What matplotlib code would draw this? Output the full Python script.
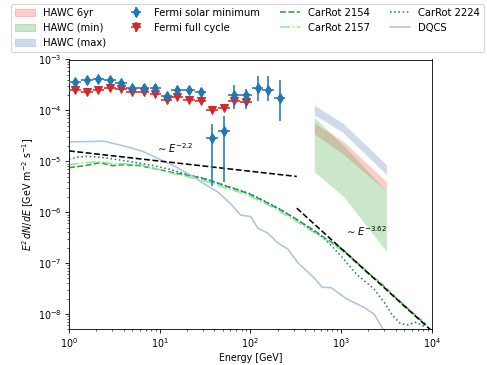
import numpy as np
import matplotlib.pyplot as plt
from matplotlib.patches import Patch

# Fermi-LAT points (GeV, GeV m^-2 s^-1)
fermi_E = np.array([1.16, 1.57, 2.11, 2.85, 3.77, 4.94, 6.65, 8.96, 11.9, 15.6,
                    20.9, 28.2, 38, 51, 66, 89, 120, 157, 210])
fermi_min = np.array([3.6e-4, 3.9e-4, 4.07e-4, 3.9e-4, 3.4e-4, 2.7e-4, 2.8e-4, 2.8e-4,
                      1.93e-4, 2.5e-4, 2.5e-4, 2.3e-4, 2.9e-5, 3.9e-5, 2.0e-4, 2.0e-4,
                      2.7e-4, 2.5e-4, 1.74e-4])
fermi_min_lo = np.array([3.1e-4, 3.4e-4, 3.5e-4, 3.35e-4, 2.9e-4, 2.3e-4, 2.4e-4, 2.35e-4,
                         1.6e-4, 2.1e-4, 2.1e-4, 1.9e-4, 3.2e-6, 4.0e-6, 1.07e-4, 1.07e-4,
                         1.54e-4, 1.54e-4, 6.3e-5])
fermi_min_hi = np.array([4.2e-4, 4.5e-4, 4.7e-4, 4.5e-4, 4.0e-4, 3.2e-4, 3.3e-4, 3.3e-4,
                         2.3e-4, 3.0e-4, 3.0e-4, 2.8e-4, 5.4e-5, 7.8e-5, 3.2e-4, 2.6e-4,
                         4.7e-4, 4.7e-4, 4.0e-4])
fermi_full = np.array([2.5e-4, 2.33e-4, 2.5e-4, 2.7e-4, 2.6e-4, 2.33e-4, 2.3e-4, 2.14e-4,
                       1.58e-4, 1.84e-4, 1.58e-4, 1.51e-4, 1.01e-4, 1.11e-4, 1.54e-4, 1.48e-4])
bin_halfwidth_dex = 0.064

# HAWC bands
hawc_E = np.array([507, 1050, 3160])
hawc6_lo = np.array([3.45e-5, 1.4e-5, 2.6e-6])
hawc6_hi = np.array([5.6e-5, 2.5e-5, 4.0e-6])
hawcmin_lo = np.array([6.2e-6, 2.1e-6, 1.7e-7])
hawcmin_hi = np.array([7.3e-5, 2.1e-5, 2.6e-6])
hawcmax_lo = np.array([8.2e-5, 3.7e-5, 5.5e-6])
hawcmax_hi = np.array([1.27e-4, 5.6e-5, 8.6e-6])

# simulations
car_E = np.array([1.0, 1.5, 2.2, 3.0, 4.0, 6.0, 10, 14, 20, 30, 42, 55, 75, 100, 150,
                  217, 320, 500, 700, 1000, 1400, 2000, 2800, 4000, 5800, 8700])
car2154 = np.array([7.5e-6, 8.2e-6, 9.4e-6, 8.2e-6, 8.6e-6, 8.2e-6, 6.85e-6, 6.0e-6, 5.36e-6,
                    4.58e-6, 3.8e-6, 3.2e-6, 2.7e-6, 2.23e-6, 1.55e-6, 1.1e-6, 7.3e-7,
                    4.44e-7, 2.9e-7, 1.98e-7, 1.15e-7, 6.4e-8, 3.9e-8, 2.1e-8, 1.15e-8, 6.2e-9])
car2157 = np.array([8.6e-6, 9.4e-6, 9.8e-6, 9.0e-6, 9.0e-6, 8.6e-6, 6.85e-6, 5.7e-6, 5.0e-6,
                    4.2e-6, 3.5e-6, 2.92e-6, 2.5e-6, 2.04e-6, 1.45e-6, 1.0e-6, 6.65e-7,
                    4.05e-7, 2.8e-7, 1.81e-7, 1.1e-7, 6.2e-8, 3.8e-8, 2.0e-8, 1.1e-8, 6.0e-9])
car2224_E = np.array([1.0, 1.25, 1.6, 2.1, 2.6, 3.3, 5.0, 8.3, 12.9, 20, 30, 55, 100, 217,
                      320, 500, 650, 1000, 1500, 2300, 3000, 3700, 4500, 5500, 6500, 7500, 8500])
car2224 = np.array([1.09e-5, 1.21e-5, 1.25e-5, 1.21e-5, 1.16e-5, 1.09e-5, 9.7e-6, 8.3e-6,
                    6.95e-6, 5.5e-6, 4.7e-6, 3.27e-6, 2.3e-6, 1.13e-6, 7.3e-7, 4.25e-7,
                    3.1e-7, 1.38e-7, 5.9e-8, 3.14e-8, 1.68e-8, 9.35e-9, 6.5e-9, 6.1e-9,
                    6.9e-9, 6.3e-9, 5.5e-9])
dqcs_E = np.array([1.0, 1.84, 2.38, 3.4, 4.74, 6.6, 10.7, 14.9, 21.9, 30.5, 43.6, 60, 78,
                   101, 121, 156, 201, 259, 335, 504, 618, 778, 1140, 1800, 2330, 2780, 3000])
dqcs = np.array([2.41e-5, 2.45e-5, 2.5e-5, 2.15e-5, 1.85e-5, 1.55e-5, 1.03e-5, 7.85e-6,
                 5.36e-6, 3.66e-6, 2.5e-6, 1.49e-6, 8.8e-7, 8.2e-7, 4.85e-7, 3.88e-7,
                 2.48e-7, 1.89e-7, 1.01e-7, 5.15e-8, 3.36e-8, 3.29e-8, 2.0e-8, 1.34e-8,
                 9.8e-9, 5.7e-9, 4.5e-9])

# power-law guides
pl1_E = np.array([1, 325])
pl1_norm, pl1_index = 1.6e-5, 2.2
pl2_E = np.array([325, 10000])
pl2_norm, pl2_index = 1.2e-6, 3.62

fig = plt.figure(figsize=(487 / 76, 365 / 76), dpi=76)
ax = fig.add_axes([69 / 487, 1 - 329.3 / 365, (431.7 - 69) / 487, (329.3 - 59.5) / 365])

h6 = ax.fill_between(hawc_E, hawc6_lo, hawc6_hi, color='red', alpha=0.2, lw=0)
hmin = ax.fill_between(hawc_E, hawcmin_lo, hawcmin_hi, color='C2', alpha=0.25, lw=0)
hmax = ax.fill_between(hawc_E, hawcmax_lo, hawcmax_hi, color='lightsteelblue', alpha=0.6, lw=0)

l2154, = ax.plot(car_E, car2154, ls='--', color='C2', lw=1.5)
l2157, = ax.plot(car_E, car2157, ls='-.', color='lightgreen', lw=1.5)
l2224, = ax.plot(car2224_E, car2224, ls=':', color='C0', lw=1.5)
ldq, = ax.plot(dqcs_E, dqcs, color='lightsteelblue', lw=1.5)

ax.plot(pl1_E, pl1_norm * (pl1_E / pl1_E[0]) ** (2 - pl1_index), 'k--', lw=1.5)
ax.plot(pl2_E, pl2_norm * (pl2_E / pl2_E[0]) ** (2 - pl2_index), 'k--', lw=1.5)

xe_lo = fermi_E * (1 - 10 ** -bin_halfwidth_dex)
xe_hi = fermi_E * (10 ** bin_halfwidth_dex - 1)
emin = ax.errorbar(fermi_E, fermi_min, yerr=[fermi_min - fermi_min_lo, fermi_min_hi - fermi_min],
                   xerr=[xe_lo, xe_hi], fmt='d', color='C0', ms=7, elinewidth=1.5, zorder=4)
n = len(fermi_full)
efull = ax.errorbar(fermi_E[:n], fermi_full, yerr=0.05 * fermi_full,
                    xerr=[xe_lo[:n], xe_hi[:n]], fmt='v', color='C3', ms=7,
                    elinewidth=1.5, zorder=3)

ax.text(9, 1.45e-5, r'$\sim E^{-2.2}$', fontsize=9.5)
ax.text(1110, 3.4e-7, r'$\sim E^{-3.62}$', fontsize=9.5)

ax.set_xscale('log')
ax.set_yscale('log')
ax.set_xlim(1, 1e4)
ax.set_ylim(5e-9, 1e-3)
ax.set_xlabel('Energy [GeV]', fontsize=9, labelpad=2)
ax.set_ylabel(r'$E^2\,dN/dE$ [GeV m$^{-2}$ s$^{-1}$]', fontsize=9, labelpad=2)
ax.tick_params(labelsize=9)

handles = [Patch(color='red', alpha=0.2), Patch(color='C2', alpha=0.25),
           Patch(color='lightsteelblue', alpha=0.6), emin, efull, l2154, l2157, l2224, ldq]
labels = ['HAWC 6yr', 'HAWC (min)', 'HAWC (max)', 'Fermi solar minimum', 'Fermi full cycle',
          'CarRot 2154', 'CarRot 2157', 'CarRot 2224', 'DQCS']
fig.legend(handles, labels, ncol=4, loc='lower left', fontsize=9.5,
           bbox_to_anchor=(11 / 487, 1 - 52 / 365), borderaxespad=0)

fig.savefig('out.png', dpi=76)
